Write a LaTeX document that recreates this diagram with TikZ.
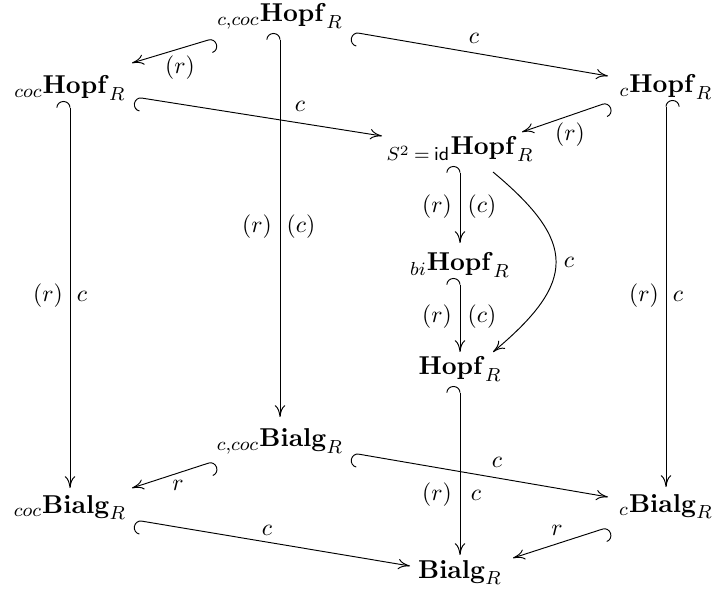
\documentclass[tikz,border=0pt]{standalone}
\usetikzlibrary{arrows.meta,calc}
\begin{document}
\begin{tikzpicture}[x=0.4237pt,y=-0.4237pt,
  obj/.style={inner sep=0pt, anchor=base, font=\fontsize{11.4}{14}\selectfont},
  lab/.style={inner sep=0pt, font=\fontsize{10.2}{12}\selectfont},
  ar/.style={-{Computer Modern Rightarrow[length=5pt,width=4.4pt]}},
  hr/.style={{Hooks[left,length=2.8pt,width=11.5pt]}-{Computer Modern Rightarrow[length=5pt,width=4.4pt]}},
  hl/.style={{Hooks[right,length=2.8pt,width=11.5pt]}-{Computer Modern Rightarrow[length=5pt,width=4.4pt]}},
]
\useasboundingbox (0,0) rectangle (715,594);
% objects
\node[obj] (ccocH) at (280,22) {${}_{c,coc}\mathbf{Hopf}_R$};
\node[obj] (cocH) at (70,94) {${}_{coc}\mathbf{Hopf}_R$};
\node[obj] (cH) at (666,93) {${}_{c}\mathbf{Hopf}_R$};
\node[obj] (S2H) at (460,155) {${}_{S^2\mkern4mu{=}\mkern4mu\mathsf{id}}\mathbf{Hopf}_R$};
\node[obj] (biH) at (460,271) {${}_{bi}\mathbf{Hopf}_R$};
\node[obj] (H) at (460,375) {$\mathbf{Hopf}_R$};
\node[obj] (ccocB) at (280,447) {${}_{c,coc}\mathbf{Bialg}_R$};
\node[obj] (cocB) at (70,513) {${}_{coc}\mathbf{Bialg}_R$};
\node[obj] (cB) at (666,512) {${}_{c}\mathbf{Bialg}_R$};
\node[obj] (B) at (460,578) {$\mathbf{Bialg}_R$};
% arrows
\draw[hl] ($(ccocH.base)+(-65,16)$) -- ($(cocH.base)+(62,-31)$);
\draw[hr] ($(ccocH.base)+(72,10)$) -- ($(cH.base)+(-58,-17)$);
\draw[hr] ($(ccocH.base)+(0,11)$) -- ($(ccocB.base)+(0,-30)$);
\draw[hr] ($(cocH.base)+(65,3)$) -- ($(S2H.base)+(-78,-19)$);
\draw[hr] ($(cocH.base)+(0,7)$) -- ($(cocB.base)+(0,-25)$);
\draw[hl] ($(cH.base)+(-57,9)$) -- ($(S2H.base)+(62,-23)$);
\draw[hl] ($(cH.base)+(0,7)$) -- ($(cB.base)+(0,-25)$);
\draw[hr] ($(S2H.base)+(0,11)$) -- ($(biH.base)+(0,-28)$);
\draw[ar] ($(S2H.base)+(33,17)$) .. controls +(84,70) and +(84,-70) .. ($(H.base)+(33,-23)$);
\draw[hr] ($(biH.base)+(0,7)$) -- ($(H.base)+(0,-23)$);
\draw[hr] ($(H.base)+(0,11)$) -- ($(B.base)+(0,-23)$);
\draw[hl] ($(ccocB.base)+(-65,14)$) -- ($(cocB.base)+(62,-25)$);
\draw[hr] ($(ccocB.base)+(72,6)$) -- ($(cB.base)+(-58,-15)$);
\draw[hr] ($(cocB.base)+(65,7)$) -- ($(B.base)+(-50,-12)$);
\draw[hl] ($(cB.base)+(-57,15)$) -- ($(B.base)+(53,-20)$);
% labels
\node[lab] (l1) at (180,68) {$(r)$};
\node[lab] (l2) at (474,38) {$c$};
\node[lab] (l3a) at (257,227) {$(r)$};
\node[lab] (l3b) at (301,227) {$(c)$};
\node[lab] (l4) at (300,106) {$c$};
\node[lab] (l5a) at (48,296) {$(r)$};
\node[lab] (l5b) at (82,296) {$c$};
\node[lab] (l6) at (570,135) {$(r)$};
\node[lab] (l7a) at (644,296) {$(r)$};
\node[lab] (l7b) at (678,296) {$c$};
\node[lab] (l8a) at (437,207) {$(r)$};
\node[lab] (l8b) at (482,207) {$(c)$};
\node[lab] (l9) at (569,262) {$c$};
\node[lab] (l10a) at (437,317) {$(r)$};
\node[lab] (l10b) at (482,317) {$(c)$};
\node[lab] (l11a) at (437,495) {$(r)$};
\node[lab] (l11b) at (476,495) {$c$};
\node[lab] (l12) at (178,485) {$r$};
\node[lab] (l13) at (497,462) {$c$};
\node[lab] (l14) at (267,530) {$c$};
\node[lab] (l15) at (557,530) {$r$};
\end{tikzpicture}
\end{document}
